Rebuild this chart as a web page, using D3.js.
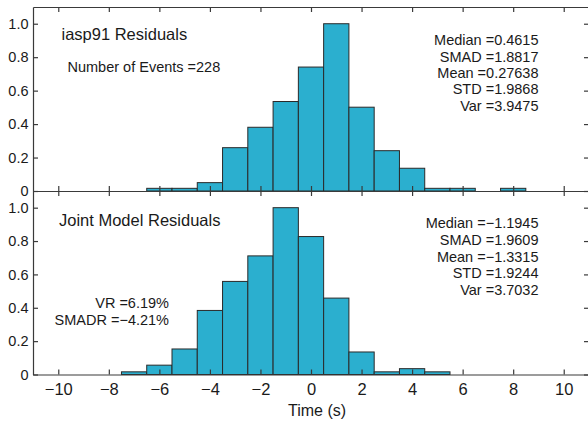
<!DOCTYPE html>
<html>
<head>
<meta charset="utf-8">
<script src="https://cdn.jsdelivr.net/npm/d3@7"></script>
<style>
  html, body { margin: 0; padding: 0; background: #fff; }
  svg { display: block; }
</style>
</head>
<body>
<svg id="chart" width="588" height="422"></svg>
<script>
// histogram bins (centre of each 1 s bin) and normalised counts
const iaspBins = [-6, -5, -4, -3, -2, -1, 0, 1, 2, 3, 4, 5, 6, 7, 8];
const iaspValues = [0.016, 0.016, 0.05, 0.259, 0.381, 0.535, 0.741, 1.0, 0.501, 0.241, 0.136, 0.016, 0.016, 0, 0.016];

const jointBins = [-7, -6, -5, -4, -3, -2, -1, 0, 1, 2, 3, 4, 5];
const jointValues = [0.016, 0.056, 0.153, 0.384, 0.558, 0.711, 1.0, 0.827, 0.458, 0.135, 0.016, 0.035, 0.016];

const xTicks = [-10, -8, -6, -4, -2, 0, 2, 4, 6, 8, 10];
const yTicks = [0, 0.2, 0.4, 0.6, 0.8, 1.0];

const iaspStats = ['Median =0.4615', 'SMAD =1.8817', 'Mean =0.27638', 'STD =1.9868', 'Var =3.9475'];
const jointStats = ['Median =\u22121.1945', 'SMAD =1.9609', 'Mean =\u22121.3315', 'STD =1.9244', 'Var =3.7032'];
const jointExtra = ['VR =6.19%', 'SMADR =\u22124.21%'];

const svg = d3.select('svg#chart');
const font = 'Liberation Sans, Arial, sans-serif';
const ink = '#1a1a1a';
const lineColor = '#3a3a3a';
const barFill = '#2bafcf';

const left = 33, right = 589;
const x = d3.scaleLinear().domain([-11, 11]).range([left, right]);

function drawPanel(top, bottom, bins, values, showXLabels) {
  const y = d3.scaleLinear().domain([0, 1.1]).range([bottom, top]);
  const g = svg.append('g');

  // bars
  g.selectAll('rect.bar')
    .data(bins.map((b, i) => ({bin: b, value: values[i]})).filter(d => d.value > 0))
    .join('rect')
    .attr('class', 'bar')
    .attr('x', d => x(d.bin - 0.5))
    .attr('y', d => y(d.value))
    .attr('width', d => x(d.bin + 0.5) - x(d.bin - 0.5))
    .attr('height', d => bottom - y(d.value))
    .attr('fill', barFill)
    .attr('stroke', '#2a2a2a')
    .attr('stroke-width', 1);

  const yFmt = d => d === 0 ? '0' : d3.format('.1f')(d);

  // bottom axis
  const bAx = g.append('g')
    .attr('transform', 'translate(0,' + bottom + ')')
    .call(d3.axisBottom(x).tickValues(xTicks).tickSizeInner(-5).tickSizeOuter(0).tickPadding(9));
  // top axis (no labels)
  const tAx = g.append('g')
    .attr('transform', 'translate(0,' + top + ')')
    .call(d3.axisTop(x).tickValues(xTicks).tickSizeInner(-5).tickSizeOuter(0).tickFormat(''));
  // left axis
  const lAx = g.append('g')
    .attr('transform', 'translate(' + left + ',0)')
    .call(d3.axisLeft(y).tickValues(yTicks).tickSizeInner(-5).tickSizeOuter(0).tickPadding(4.5).tickFormat(yFmt));
  // right axis (no labels)
  const rAx = g.append('g')
    .attr('transform', 'translate(' + right + ',0)')
    .call(d3.axisRight(y).tickValues(yTicks).tickSizeInner(-5).tickSizeOuter(0).tickFormat(''));

  [bAx, tAx, lAx, rAx].forEach(a => {
    a.selectAll('path.domain').attr('stroke', lineColor).attr('stroke-width', 1.2);
    a.selectAll('line').attr('stroke', lineColor).attr('stroke-width', 1.2);
    a.selectAll('text').attr('fill', ink).attr('font-family', font);
  });
  lAx.selectAll('text').attr('font-size', '14.5px');
  if (showXLabels) {
    bAx.selectAll('text').attr('font-size', '16.5px');
  } else {
    bAx.selectAll('text').remove();
  }
  return y;
}

drawPanel(7, 191, iaspBins, iaspValues, false);
drawPanel(191, 374.5, jointBins, jointValues, true);

// annotations
function label(txt, px, py, size, anchor) {
  svg.append('text')
    .attr('x', px).attr('y', py)
    .attr('font-family', font)
    .attr('font-size', size + 'px')
    .attr('fill', ink)
    .attr('text-anchor', anchor || 'start')
    .text(txt);
}

label('iasp91 Residuals', 61.5, 40, 16.5);
label('Number of Events =228', 67.5, 71.7, 14.5);
iaspStats.forEach((s, i) => label(s, 538.5, 45.3 + i * 16.3, 14.5, 'end'));

label('Joint Model Residuals', 59, 226, 16.5);
jointStats.forEach((s, i) => label(s, 538.5, 228.3 + i * 16.7, 14.5, 'end'));
jointExtra.forEach((s, i) => label(s, 169, 308 + i * 17.3, 14.5, 'end'));

label('Time (s)', 317, 415.5, 16, 'middle');
</script>
</body>
</html>
